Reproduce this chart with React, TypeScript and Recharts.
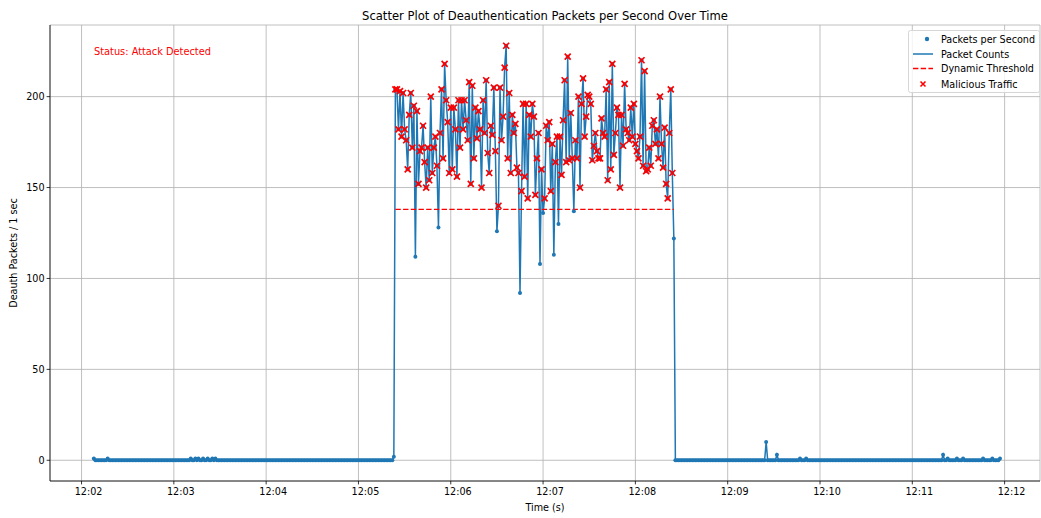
import React from "react";
import { ComposedChart, Line, XAxis, YAxis, CartesianGrid, Legend } from "recharts";

// one sample per second, first sample at 12:02:08 (seconds after 12:00:00)
const START_SEC = 128;
const THRESHOLD = 138;

// 12:02:08 .. 12:05:23
const PRE_ATTACK = [
  1, 0, 0, 0, 0, 0, 0, 0, 0, 1, 0, 0, 0, 0, 0, 0, 0, 0, 0, 0,
  0, 0, 0, 0, 0, 0, 0, 0, 0, 0, 0, 0, 0, 0, 0, 0, 0, 0, 0, 0,
  0, 0, 0, 0, 0, 0, 0, 0, 0, 0, 0, 0, 0, 0, 0, 0, 0, 0, 0, 0,
  0, 0, 0, 1, 0, 0, 1, 0, 1, 0, 0, 1, 0, 0, 1, 0, 0, 1, 0, 1,
  0, 0, 0, 0, 0, 0, 0, 0, 0, 0, 0, 0, 0, 0, 0, 0, 0, 0, 0, 0,
  0, 0, 0, 0, 0, 0, 0, 0, 0, 0, 0, 0, 0, 0, 0, 0, 0, 0, 0, 0,
  0, 0, 0, 0, 0, 0, 0, 0, 0, 0, 0, 0, 0, 0, 0, 0, 0, 0, 0, 0,
  0, 0, 0, 0, 0, 0, 0, 0, 0, 0, 0, 0, 0, 0, 0, 0, 0, 0, 0, 0,
  0, 0, 0, 0, 0, 0, 0, 0, 0, 0, 0, 0, 0, 0, 0, 0, 0, 0, 0, 0,
  0, 0, 0, 0, 0, 0, 0, 0, 0, 0, 0, 0, 0, 0, 0, 2,
];

// 12:05:24 .. 12:08:25
const ATTACK = [
  204, 204, 182, 203, 178, 202, 182, 176, 160, 190,
  202, 172, 195, 112, 192, 152, 170, 172, 184, 164,
  150, 172, 154, 200, 158, 172, 178, 162, 128, 180,
  204, 166, 218, 198, 186, 158, 194, 160, 194, 182,
  156, 198, 172, 198, 182, 198, 187, 176, 208, 152,
  206, 166, 194, 177, 192, 182, 150, 198, 180, 209,
  169, 158, 184, 179, 205, 170, 126, 140, 205, 176,
  189, 216, 228, 166, 202, 158, 190, 180, 185, 161,
  158, 92, 148, 196, 156, 196, 144, 190, 178, 196,
  189, 146, 166, 180, 108, 160, 136, 144, 184, 176,
  186, 148, 174, 113, 164, 178, 130, 178, 157, 187,
  209, 164, 222, 165, 191, 166, 137, 176, 166, 200,
  150, 196, 210, 178, 189, 201, 200, 196, 165, 173,
  180, 170, 166, 166, 188, 180, 178, 204, 154, 208,
  160, 218, 168, 180, 194, 190, 150, 190, 173, 207,
  182, 180, 176, 194, 178, 196, 174, 170, 166, 178,
  220, 162, 214, 159, 160, 172, 162, 184, 187, 174,
  182, 166, 200, 174, 161, 183, 152, 144, 180, 204,
  158, 122,
];

// 12:08:26 .. 12:11:57
const POST_ATTACK = [
  0, 0, 0, 0, 0, 0, 0, 0, 0, 0, 0, 0, 0, 0, 0, 0, 0, 0, 0, 0,
  0, 0, 0, 0, 0, 0, 0, 0, 0, 0, 0, 0, 0, 0, 0, 0, 0, 0, 0, 0,
  0, 0, 0, 0, 0, 0, 0, 0, 0, 0, 0, 0, 0, 0, 0, 0, 0, 0, 0, 10,
  0, 0, 0, 0, 0, 0, 3, 0, 0, 0, 0, 0, 0, 0, 0, 0, 0, 0, 0, 0,
  0, 1, 0, 0, 0, 1, 0, 0, 0, 0, 0, 0, 0, 0, 0, 0, 0, 0, 0, 0,
  0, 0, 0, 0, 0, 0, 0, 0, 0, 0, 0, 0, 0, 0, 0, 0, 0, 0, 0, 0,
  0, 0, 0, 0, 0, 0, 0, 0, 0, 0, 0, 0, 0, 0, 0, 0, 0, 0, 0, 0,
  0, 0, 0, 0, 0, 0, 0, 0, 0, 0, 0, 0, 0, 0, 0, 0, 0, 0, 0, 0,
  0, 0, 0, 0, 0, 0, 0, 0, 0, 0, 0, 0, 0, 0, 3, 0, 0, 1, 0, 0,
  0, 0, 0, 1, 0, 0, 0, 1, 0, 0, 0, 0, 0, 0, 0, 0, 0, 0, 0, 0,
  1, 0, 0, 0, 0, 0, 1, 0, 0, 0, 0, 1,
];

const X_TICKS = [120, 180, 240, 300, 360, 420, 480, 540, 600, 660, 720];
const Y_TICKS = [0, 50, 100, 150, 200];

const BLUE = "#1f77b4";
const RED = "#ff0000";
const FONT = "'DejaVu Sans', sans-serif";

const counts = [...PRE_ATTACK, ...ATTACK, ...POST_ATTACK];
const attackStart = PRE_ATTACK.length;
const attackEnd = attackStart + ATTACK.length;

const chartData = counts.map((v, i) => ({
  t: START_SEC + i,
  pps: v,
  threshold: i >= attackStart && i < attackEnd ? THRESHOLD : null,
  malicious: v > THRESHOLD ? v : null,
}));

const fmtTime = (s: number) => `12:${String(Math.floor(s / 60)).padStart(2, "0")}`;

const BlueDot = (props: any) => {
  const { cx, cy, index } = props;
  if (cx == null || cy == null) return <g key={index} />;
  return <circle key={index} cx={cx} cy={cy} r={2} fill={BLUE} />;
};

const Cross = (props: any) => {
  const { cx, cy, index, payload } = props;
  if (!payload || payload.malicious == null || cx == null || cy == null) return <g key={index} />;
  const s = 3;
  return (
    <path
      key={index}
      d={`M${cx - s},${cy - s}L${cx + s},${cy + s}M${cx - s},${cy + s}L${cx + s},${cy - s}`}
      stroke={RED}
      strokeWidth={1.7}
      fill="none"
    />
  );
};

const TimeTick = (props: any) => {
  const { x, y, payload } = props;
  return (
    <text x={x + 7} y={y + 9} textAnchor="middle" fontSize={9.64} fontFamily={FONT} fill="#000">
      {fmtTime(payload.value)}
    </text>
  );
};

const LegendBox = () => (
  <svg width={133} height={64} style={{ display: "block" }}>
    <rect x={0.5} y={0.5} width={131} height={62} rx={2} fill="#fff" fillOpacity={0.8} stroke="#d6d6d6" />
    <circle cx={19} cy={9} r={2.2} fill={BLUE} />
    <line x1={5} x2={25} y1={24} y2={24} stroke={BLUE} strokeWidth={1.5} />
    <line x1={5} x2={25} y1={38.5} y2={38.5} stroke={RED} strokeWidth={1.5} strokeDasharray="5.4 2.3" />
    <path d="M12.5,51.5L17.5,56.5M12.5,56.5L17.5,51.5" stroke={RED} strokeWidth={1.6} />
    <g fontFamily={FONT} fontSize={9.64} fill="#000">
      <text x={33} y={12.5}>Packets per Second</text>
      <text x={33} y={27.5}>Packet Counts</text>
      <text x={33} y={42}>Dynamic Threshold</text>
      <text x={33} y={57.5}>Malicious Traffic</text>
    </g>
  </svg>
);

export default function App() {
  return (
    <div style={{ position: "absolute", left: 0, top: 0, width: 1041, height: 518, background: "#fff" }}>
      <ComposedChart
        width={1041}
        height={518}
        data={chartData}
        margin={{ top: 25, right: 1, left: 0, bottom: 0 }}
      >
        <CartesianGrid stroke="#b0b0b0" strokeWidth={0.8} />
        <XAxis
          dataKey="t"
          type="number"
          domain={[99.5, 743]}
          ticks={X_TICKS}
          interval={0}
          allowDataOverflow
          height={37}
          tickSize={3.4}
          tick={<TimeTick />}
          tickLine={{ stroke: "#000", strokeWidth: 0.8 }}
          axisLine={{ stroke: "#000", strokeWidth: 0.8 }}
        />
        <XAxis
          xAxisId="top"
          orientation="top"
          dataKey="t"
          type="number"
          domain={[99.5, 743]}
          height={0}
          tick={false}
          tickLine={false}
          axisLine={{ stroke: "#000", strokeWidth: 0.8 }}
        />
        <YAxis
          type="number"
          domain={[-11.4, 239.4]}
          ticks={Y_TICKS}
          interval={0}
          allowDataOverflow
          width={50}
          tickSize={3.4}
          tickMargin={2}
          tick={{ fontSize: 9.64, fill: "#000", fontFamily: FONT }}
          tickLine={{ stroke: "#000", strokeWidth: 0.8 }}
          axisLine={{ stroke: "#000", strokeWidth: 0.8 }}
        />
        <YAxis
          yAxisId="right"
          orientation="right"
          type="number"
          domain={[-11.4, 239.4]}
          width={0}
          tick={false}
          tickLine={false}
          axisLine={{ stroke: "#000", strokeWidth: 0.8 }}
        />
        <Legend
          layout="vertical"
          align="center"
          verticalAlign="middle"
          wrapperStyle={{ left: 908, top: 30, width: 133, height: 64 }}
          content={() => <LegendBox />}
        />
        <Line
          dataKey="pps"
          type="linear"
          stroke={BLUE}
          strokeWidth={1.5}
          dot={BlueDot}
          activeDot={false}
          isAnimationActive={false}
        />
        <Line
          dataKey="threshold"
          type="linear"
          stroke={RED}
          strokeWidth={1.45}
          strokeDasharray="5.4 2.3"
          dot={false}
          activeDot={false}
          isAnimationActive={false}
        />
        <Line
          dataKey="malicious"
          type="linear"
          stroke="none"
          dot={Cross}
          activeDot={false}
          isAnimationActive={false}
        />
      </ComposedChart>
      <svg
        width={1041}
        height={518}
        style={{ position: "absolute", left: 0, top: 0, pointerEvents: "none" }}
        fontFamily={FONT}
      >
        <text x={545} y={20} textAnchor="middle" fontSize={11.57} fill="#000">
          Scatter Plot of Deauthentication Packets per Second Over Time
        </text>
        <text x={94} y={55} fontSize={9.8} fill={RED}>
          Status: Attack Detected
        </text>
        <text x={545} y={511} textAnchor="middle" fontSize={9.64} fill="#000">
          Time (s)
        </text>
        <text x={17} y={253} textAnchor="middle" fontSize={9.64} fill="#000" transform="rotate(-90 17 253)">
          Deauth Packets / 1 sec
        </text>
      </svg>
    </div>
  );
}
